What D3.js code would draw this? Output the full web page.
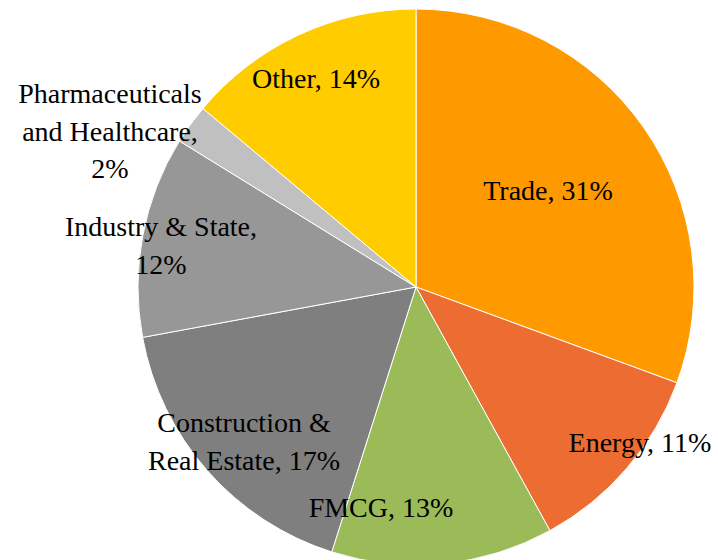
<!DOCTYPE html>
<html>
<head>
<meta charset="utf-8">
<script src="https://cdn.jsdelivr.net/npm/d3@7"></script>
</head>
<body style="margin:0;background:#fff">
<svg id="chart" width="718" height="560"></svg>
<script>
// ---- data ----
const categories = ["Trade", "Energy", "FMCG", "Construction & Real Estate", "Industry & State", "Pharmaceuticals and Healthcare", "Other"];
const shares = [30.6, 11.4, 12.9, 17.2, 11.7, 2.3, 13.9];
const percentLabels = ["31%", "11%", "13%", "17%", "12%", "2%", "14%"];
const colors = ["#FF9900", "#ED6C32", "#9BBB59", "#7F7F7F", "#979797", "#C0C0C0", "#FFCC00"];

// label layout: text lines and anchor (centre x, first baseline y)
const labelLines = [
  ["Trade, 31%"],
  ["Energy, 11%"],
  ["FMCG, 13%"],
  ["Construction &", "Real Estate, 17%"],
  ["Industry & State,", "12%"],
  ["Pharmaceuticals", "and Healthcare,", "2%"],
  ["Other, 14%"]
];
const labelAnchors = [[548, 200], [640, 452], [381, 517], [244, 432], [161, 236], [110, 103], [316, 88]];

// ---- layout ----
const cx = 416, cy = 287, r = 278;
const svg = d3.select("#chart");
const g = svg.append("g").attr("transform", `translate(${cx},${cy})`);

const pie = d3.pie().sort(null).value(d => d.v);
const arc = d3.arc().innerRadius(0).outerRadius(r);
const data = categories.map((c, i) => ({ c, v: shares[i], i }));

g.selectAll("path.slice")
  .data(pie(data))
  .join("path")
  .attr("class", "slice")
  .attr("d", arc)
  .attr("fill", d => colors[d.data.i])
  .attr("stroke", "#ffffff")
  .attr("stroke-width", 1);

const lineH = 37.5;
labelLines.forEach((lines, i) => {
  lines.forEach((ln, k) => {
    svg.append("text")
      .attr("x", labelAnchors[i][0])
      .attr("y", labelAnchors[i][1] + k * lineH)
      .attr("text-anchor", "middle")
      .attr("font-size", 28)
      .attr("font-family", "serif")
      .text(ln);
  });
});
</script>
</body>
</html>
